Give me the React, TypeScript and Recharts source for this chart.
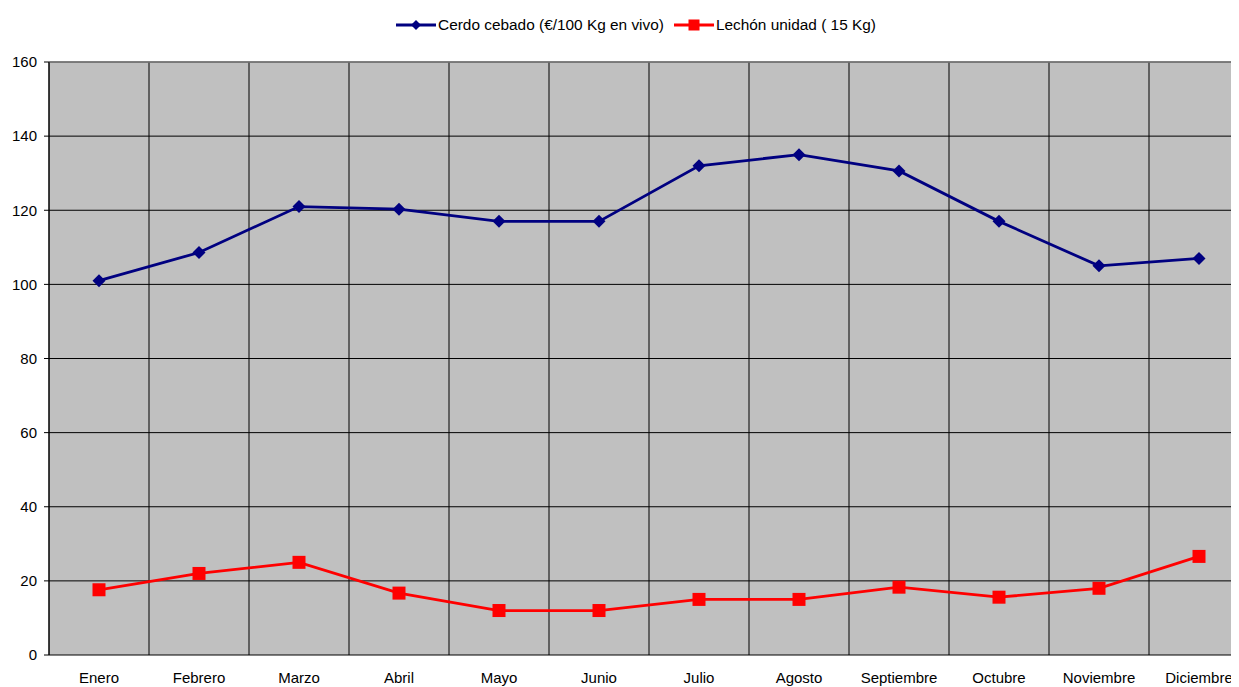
import React from "react";
import { ComposedChart, Line, XAxis, YAxis, CartesianGrid, Legend, ReferenceLine } from "recharts";

const months = ["Enero", "Febrero", "Marzo", "Abril", "Mayo", "Junio", "Julio", "Agosto", "Septiembre", "Octubre", "Noviembre", "Diciembre"];
const cerdo = [101, 108.6, 121, 120.3, 117, 117, 132, 135, 130.6, 117, 105, 107];
const lechon = [17.6, 22, 25, 16.7, 12, 12, 15, 15, 18.3, 15.6, 18, 26.6];
const yTicks = [0, 20, 40, 60, 80, 100, 120, 140, 160];
const bandEdges = [0, 1, 2, 3, 4, 5, 6, 7, 8, 9, 10, 11, 12];

const NAVY = "#000080";
const RED = "#FF0000";
const FONT = "'Liberation Sans', Arial, sans-serif";

const data = months.map((m, i) => ({ month: m, cerdo: cerdo[i], lechon: lechon[i] }));

function Diamond({ cx, cy }: any) {
  if (cx == null || cy == null) return null;
  const r = 6.5;
  return <path d={`M${cx},${cy - r}L${cx + r},${cy}L${cx},${cy + r}L${cx - r},${cy}Z`} fill={NAVY} />;
}

function Square({ cx, cy }: any) {
  if (cx == null || cy == null) return null;
  const r = 6.5;
  return <rect x={cx - r} y={cy - r} width={r * 2} height={r * 2} fill={RED} />;
}

function LegendContent({ payload }: any) {
  return (
    <div style={{ display: "flex", justifyContent: "center", gap: 10, fontFamily: FONT, fontSize: 15.4, color: "#000", paddingLeft: 10 }}>
      {(payload ?? []).map((p: any) => (
        <div key={p.value} style={{ display: "flex", alignItems: "center" }}>
          <svg width={40} height={12} style={{ marginRight: 2 }}>
            <line x1={0} y1={6} x2={40} y2={6} stroke={p.color} strokeWidth={2.8} />
            {p.dataKey === "cerdo" ? (
              <path d="M20,1L25,6L20,11L15,6Z" fill={p.color} />
            ) : (
              <rect x={14.5} y={0.5} width={11} height={11} fill={p.color} />
            )}
          </svg>
          <span>{p.value}</span>
        </div>
      ))}
    </div>
  );
}

export default function App() {
  return (
    <div style={{ width: 1231, height: 679, overflow: "hidden" }}>
      <ComposedChart width={1250} height={679} data={data} margin={{ top: 24, right: 9, bottom: 2, left: 5 }}>
        <CartesianGrid xAxisId="edges" fill="#C0C0C0" stroke="#000" strokeOpacity={1} />
        <XAxis
          xAxisId="edges"
          dataKey="edge"
          type="number"
          scale="linear"
          domain={[0, 12]}
          allowDataOverflow
          ticks={bandEdges}
          interval={0}
          height={0}
          tickSize={5}
          tickFormatter={() => ""}
          stroke="#000"
          axisLine={{ stroke: "#333" }}
        />
        <XAxis
          dataKey="month"
          scale="band"
          height={30}
          axisLine={false}
          tickLine={false}
          tickSize={0}
          tickMargin={17}
          interval={0}
          tick={{ fill: "#000", fontSize: 15, fontFamily: FONT }}
        />
        <YAxis
          domain={[0, 160]}
          ticks={yTicks}
          width={36}
          tickSize={5}
          tickMargin={7}
          stroke="#000"
          tick={{ fill: "#000", fontSize: 15, fontFamily: FONT }}
        />
        <ReferenceLine y={160} stroke="#808080" strokeWidth={1.5} />
        <Legend verticalAlign="top" height={30} wrapperStyle={{ top: 8 }} content={<LegendContent />} />
        <Line
          dataKey="cerdo"
          name="Cerdo cebado (€/100 Kg en vivo)"
          stroke={NAVY}
          strokeWidth={2.8}
          dot={<Diamond />}
          activeDot={false}
          isAnimationActive={false}
        />
        <Line
          dataKey="lechon"
          name="Lechón unidad ( 15 Kg)"
          stroke={RED}
          strokeWidth={2.8}
          dot={<Square />}
          activeDot={false}
          isAnimationActive={false}
        />
      </ComposedChart>
    </div>
  );
}
